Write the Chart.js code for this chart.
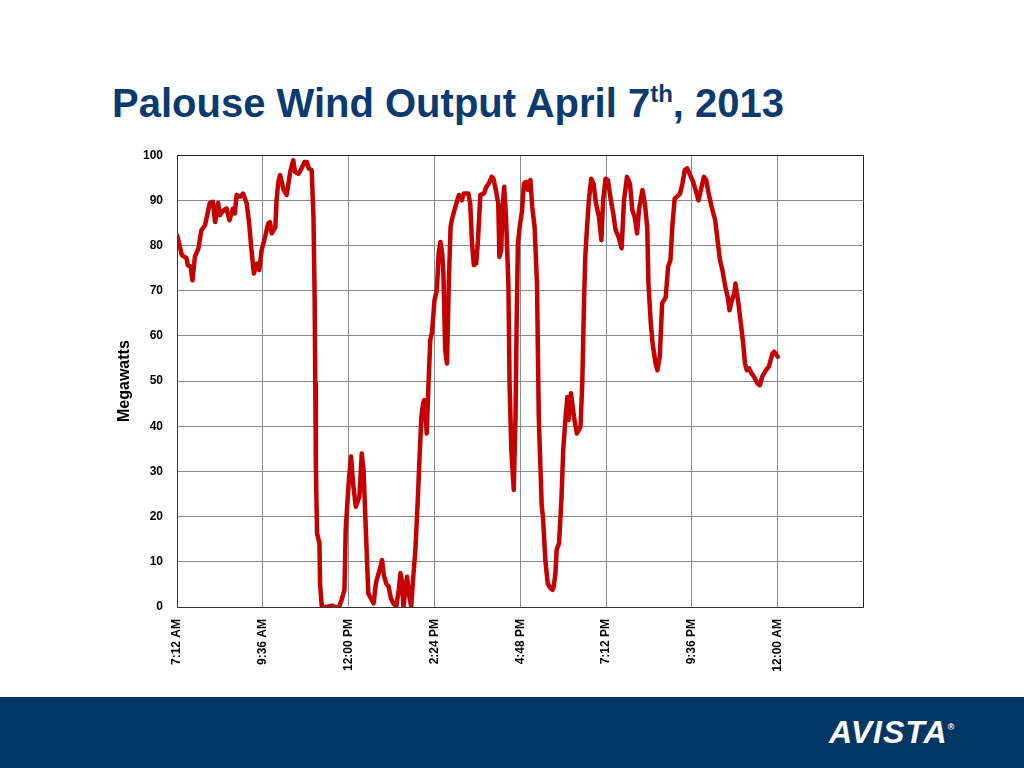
<!DOCTYPE html>
<html>
<head>
<meta charset="utf-8">
<script src="https://cdn.jsdelivr.net/npm/chart.js@4"></script>
<style>
  html, body { margin: 0; padding: 0; background: #ffffff; }
  body { width: 1024px; height: 768px; position: relative; overflow: hidden; font-family: "Liberation Sans", Arial, sans-serif; }
  #title { position: absolute; left: 112px; top: 81px; font-size: 40px; font-weight: bold; color: #0b3a6e; white-space: nowrap; letter-spacing: 0px; }
  #title sup { font-size: 24px; vertical-align: 0; position: relative; top: -15px; }
  #chartBox { position: absolute; left: 100px; top: 134px; width: 790px; height: 556px; }
  #footer { position: absolute; left: 0; top: 697px; width: 1024px; height: 71px; background: #023665; }
  #logo { position: absolute; left: 829px; top: 714px; color: #ffffff; font-size: 32px; font-weight: bold; font-style: italic; letter-spacing: 1px; white-space: nowrap; }
  #logo span { font-size: 9px; vertical-align: top; position: relative; top: 8px; letter-spacing: 0; }
</style>
</head>
<body>
<div id="title">Palouse Wind Output April 7<sup>th</sup>, 2013</div>
<div id="chartBox"><canvas id="c" width="790" height="556"></canvas></div>
<div id="footer"></div>
<div id="logo">AVISTA<span>®</span></div>
<script>
// Time of day in minutes after midnight (7:12 AM = 432) for each reading
const minutesOfDay = [
  432, 437, 440, 448, 450, 455, 458, 462, 468, 473, 479, 482, 487, 492, 496, 501, 504, 510, 515, 520,
  526, 529, 532, 538, 543, 549, 553, 557, 561, 566, 570, 574, 580, 585, 588, 591, 597, 599, 602, 605,
  611, 616, 622, 627, 630, 636, 641, 646, 650, 653, 658, 661, 663, 664, 665, 667, 671, 672, 675, 683,
  692, 697, 704, 708, 713, 715, 720, 724, 728, 732, 738, 742, 745, 748, 751, 753, 757, 762, 765, 767,
  772, 776, 779, 783, 787, 791, 795, 800, 804, 807, 809, 812, 815, 818, 821, 825, 828, 832, 836, 839,
  842, 845, 847, 851, 854, 857, 860, 864, 868, 871, 874, 877, 879, 882, 885, 888, 891, 893, 896, 900,
  905, 910, 913, 921, 924, 927, 930, 934, 937, 941, 947, 951, 955, 960, 963, 967, 971, 973, 976, 978,
  981, 984, 988, 990, 993, 997, 1000, 1002, 1004, 1007, 1011, 1014, 1018, 1021, 1025, 1028, 1032, 1036, 1039, 1044,
  1046, 1050, 1054, 1059, 1062, 1064, 1067, 1069, 1073, 1077, 1080, 1084, 1087, 1089, 1093, 1098, 1103, 1109, 1112, 1115,
  1117, 1120, 1123, 1127, 1131, 1135, 1140, 1144, 1147, 1151, 1155, 1159, 1164, 1168, 1173, 1178, 1182, 1187, 1192, 1196,
  1200, 1204, 1207, 1213, 1217, 1221, 1223, 1227, 1230, 1235, 1238, 1242, 1246, 1252, 1256, 1260, 1263, 1267, 1271, 1276,
  1280, 1284, 1288, 1293, 1298, 1302, 1307, 1311, 1316, 1320, 1324, 1329, 1335, 1339, 1343, 1347, 1352, 1356, 1359, 1363,
  1367, 1369, 1374, 1378, 1382, 1385, 1388, 1392, 1396, 1400, 1406, 1410, 1414, 1420, 1425, 1431, 1434, 1440
];
// Palouse wind output in megawatts
const megawatts = [
  82.3, 79.7, 77.9, 77.2, 75.7, 75.3, 72.3, 77.5, 79.4, 83.4, 84.5, 86.3, 89.4, 89.7, 85.2, 89.4, 86.7, 87.8, 88.2, 85.6,
  88.2, 87.1, 91.2, 90.8, 91.5, 89.3, 85.0, 79.0, 73.8, 76.0, 74.6, 79.0, 82.0, 84.9, 85.2, 82.7, 84.1, 90.0, 94.1, 95.6,
  92.3, 91.2, 96.3, 98.9, 96.3, 95.9, 97.1, 98.5, 98.5, 97.1, 96.7, 86.3, 67.9, 49.5, 31.0, 16.3, 14.1, 5.2, 0.0, 0.0,
  0.3, 0.0, 0.0, 1.5, 3.8, 17.0, 27.4, 33.3, 26.6, 22.2, 24.4, 34.0, 30.3, 20.0, 9.7, 3.0, 2.0, 0.8, 4.5, 6.0,
  8.2, 10.4, 7.1, 5.2, 4.5, 1.9, 0.8, 0.1, 3.8, 7.5, 6.0, 0.0, 3.8, 6.7, 3.0, 0.0, 6.0, 12.6, 23.7, 33.3,
  42.1, 45.1, 45.8, 38.4, 49.5, 59.1, 60.9, 67.9, 70.1, 78.2, 80.8, 78.2, 73.8, 56.9, 53.9, 71.6, 84.1, 85.6, 87.1, 89.0,
  91.2, 90.0, 91.5, 91.5, 89.3, 80.5, 75.7, 76.0, 81.2, 91.2, 91.5, 93.0, 93.7, 95.2, 94.8, 92.3, 89.3, 77.5, 79.0, 87.8,
  93.0, 86.3, 71.6, 49.5, 34.7, 25.9, 42.1, 64.2, 80.5, 84.1, 87.8, 93.7, 94.1, 92.3, 94.5, 88.6, 84.1, 71.6, 42.1, 22.2,
  20.0, 10.4, 5.2, 4.1, 3.8, 4.5, 7.5, 12.6, 14.1, 23.7, 34.7, 42.1, 46.5, 41.4, 47.3, 42.1, 38.4, 39.9, 49.5, 67.9,
  77.5, 84.1, 90.0, 94.8, 93.7, 89.3, 86.3, 81.2, 90.0, 94.8, 94.5, 90.8, 87.1, 83.4, 81.9, 79.4, 90.0, 95.2, 93.7, 87.8,
  86.3, 82.7, 87.8, 92.3, 89.3, 84.0, 71.6, 62.8, 58.3, 53.9, 52.4, 55.4, 67.2, 68.6, 75.3, 76.8, 84.1, 90.4, 90.8, 91.5,
  93.7, 96.7, 97.1, 95.6, 94.1, 92.3, 90.0, 92.3, 95.2, 94.5, 91.5, 88.6, 85.6, 81.2, 76.8, 74.6, 70.9, 68.6, 65.7, 67.9,
  69.4, 71.6, 67.2, 62.8, 58.3, 53.9, 52.4, 52.8, 51.7, 51.0, 49.5, 49.1, 51.0, 52.4, 53.2, 56.1, 56.5, 55.4
];
// X axis tick labels (every 2 h 24 min starting at 7:12 AM)
const xTickLabels = ['7:12 AM', '9:36 AM', '12:00 PM', '2:24 PM', '4:48 PM', '7:12 PM', '9:36 PM', '12:00 AM'];
const xStart = 432, xStep = 144, xEnd = 1584;
const yAxisTitle = 'Megawatts';

const points = minutesOfDay.map((m, i) => ({ x: m, y: megawatts[i] }));
const tickFont = { family: '"Liberation Sans", Arial, sans-serif', size: 12, weight: 'bold' };

new Chart(document.getElementById('c'), {
  type: 'line',
  data: {
    datasets: [{
      data: points,
      borderColor: '#c40000',
      borderWidth: 4.5,
      pointRadius: 0,
      tension: 0,
      fill: false,
      borderJoinStyle: 'round',
      borderCapStyle: 'round'
    }]
  },
  options: {
    responsive: false,
    animation: false,
    layout: { padding: 0 },
    plugins: { legend: { display: false }, tooltip: { enabled: false } },
    scales: {
      x: {
        type: 'linear',
        min: xStart,
        max: xEnd,
        afterFit: s => { s.height = 83; },
        ticks: {
          stepSize: xStep,
          autoSkip: false,
          minRotation: 90,
          maxRotation: 90,
          padding: 12,
          color: '#000',
          font: tickFont,
          callback: v => xTickLabels[Math.round((v - xStart) / xStep)] || ''
        },
        grid: {
          drawTicks: false,
          color: ctx => (ctx.tick && ctx.tick.value === xEnd) ? '#222' : '#8a8a8a',
          lineWidth: 1
        },
        border: { color: '#333', width: 1 }
      },
      y: {
        min: 0,
        max: 100,
        afterFit: s => { s.width = 77; },
        ticks: { stepSize: 10, padding: 14, color: '#000', font: tickFont },
        grid: {
          drawTicks: false,
          color: ctx => (ctx.tick && ctx.tick.value === 100) ? '#222' : '#8a8a8a',
          lineWidth: 1
        },
        border: { color: '#333', width: 1 },
        title: {
          display: true,
          text: yAxisTitle,
          color: '#000',
          font: { family: '"Liberation Sans", Arial, sans-serif', size: 16, weight: 'bold' },
          padding: { top: 15, bottom: 0 }
        }
      }
    }
  }
});
</script>
</body>
</html>
